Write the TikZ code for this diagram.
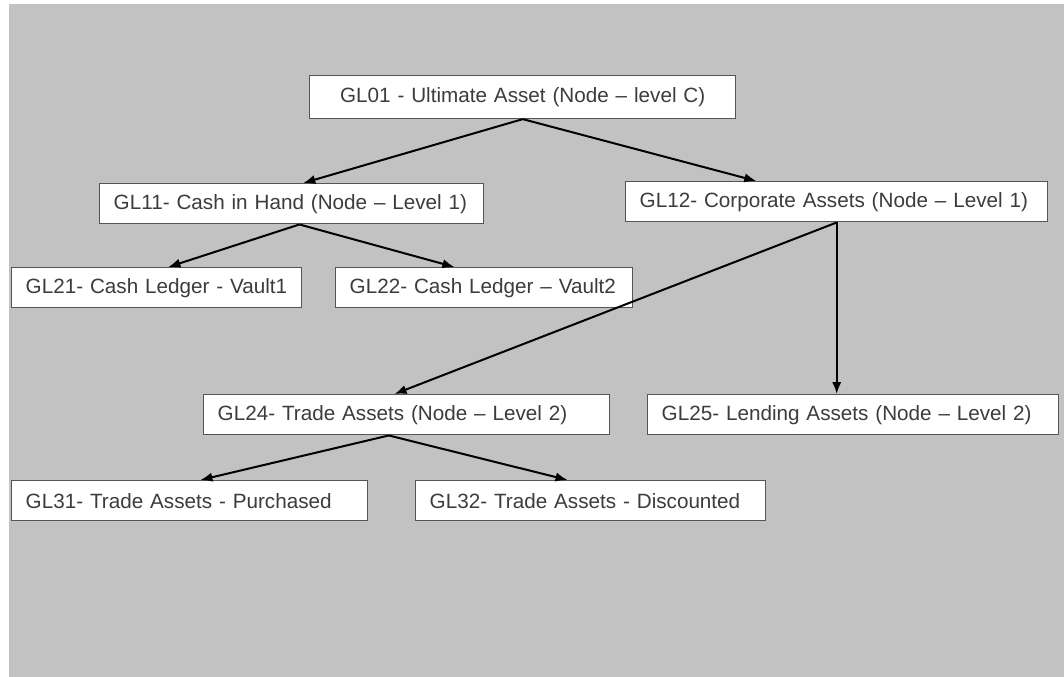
\documentclass[tikz,border=0pt]{standalone}
\usepackage{fontspec}
\setmainfont{Liberation Sans}
\usetikzlibrary{calc, arrows.meta}

\definecolor{sheetgray}{RGB}{194,194,194}
\definecolor{boxline}{RGB}{85,85,85}
\definecolor{boxtext}{RGB}{60,60,60}
\newcommand{\glfont}{\fontsize{15.5}{18}\selectfont}

\tikzset{
	glbox/.style = {draw = boxline, fill = white, line width = 1.1pt,
					anchor = north west, minimum height = 30pt,
					inner xsep = 10.5pt, align = left,
					font = \glfont, text = boxtext},
	glarrow/.style = {line width = 1.5pt, -{Latex[length = 9pt, width = 7pt]}}
}

\begin{document}
\begin{tikzpicture}[x = 0.75pt, y = -0.75pt]
	\useasboundingbox (0,0) rectangle (1064,677);
	\fill[white] (0,0) rectangle (1064,677);
	\fill[sheetgray] (9,4) rectangle (1064,677);

	% level 0
	\draw (309, 75) node[glbox, align = center, minimum height = 32pt,
					 text width = 298.5pt](GL01) {GL01 - Ultimate Asset (Node – level C)};
	% level 1
	\draw (99, 183) node[glbox,
					 text width = 267pt](GL11) {GL11- Cash in Hand (Node – Level 1)};
	\draw (625, 181) node[glbox,
					 text width = 295.5pt](GL12) {GL12- Corporate Assets (Node – Level 1)};
	% ledgers and level 2
	\draw (11, 267) node[glbox,
					 text width = 196.5pt](GL21) {GL21- Cash Ledger - Vault1};
	\draw (335, 267) node[glbox,
					 text width = 201.75pt](GL22) {GL22- Cash Ledger – Vault2};
	\draw (203, 394) node[glbox,
					 text width = 283.5pt](GL24) {GL24- Trade Assets (Node – Level 2)};
	\draw (647, 394) node[glbox,
					 text width = 287.25pt](GL25) {GL25- Lending Assets (Node – Level 2)};
	% trade ledgers
	\draw (11, 480) node[glbox,
					 text width = 246pt](GL31) {GL31- Trade Assets - Purchased};
	\draw (415, 480) node[glbox,
					 text width = 241.5pt](GL32) {GL32- Trade Assets - Discounted};

	\draw[glarrow] (GL01.south) -- ($(GL11.north west)!0.53!(GL11.north east)$);
	\draw[glarrow] (GL01.south) -- ($(GL12.north west)!0.31!(GL12.north east)$);
	\draw[glarrow] ($(GL11.south west)!0.52!(GL11.south east)$) -- ($(GL21.north west)!0.54!(GL21.north east)$);
	\draw[glarrow] ($(GL11.south west)!0.52!(GL11.south east)$) -- ($(GL22.north west)!0.40!(GL22.north east)$);
	\draw[glarrow] (GL12.south) -- ($(GL24.north west)!0.47!(GL24.north east)$);
	\draw[glarrow] (GL12.south) -- (GL12.south |- GL25.north);
	\draw[glarrow] ($(GL24.south west)!0.456!(GL24.south east)$) -- ($(GL31.north west)!0.53!(GL31.north east)$);
	\draw[glarrow] ($(GL24.south west)!0.456!(GL24.south east)$) -- ($(GL32.north west)!0.434!(GL32.north east)$);
\end{tikzpicture}
\end{document}
